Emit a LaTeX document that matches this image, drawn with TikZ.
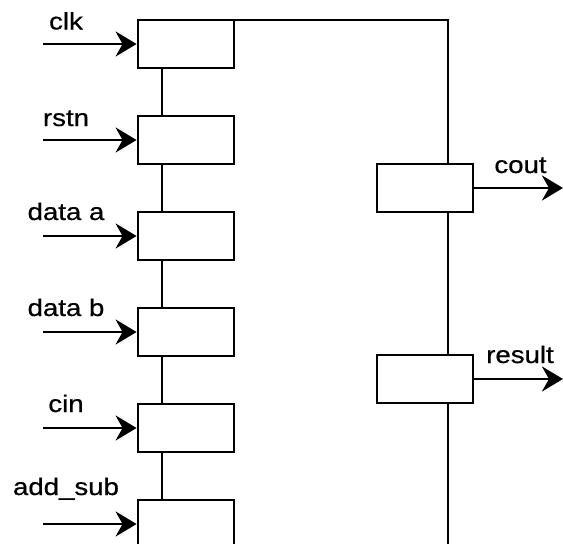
\documentclass[tikz,border=0pt]{standalone}
\usepackage{fontspec}
\setmainfont{Liberation Sans}
\newfontfamily\lblfont{Liberation Sans}[FakeBold=0.6,AutoFakeBold=0.6]
\usetikzlibrary{arrows.meta}
\tikzset{
  reg/.style={draw, line width=2.8pt, fill=white, rectangle, minimum width=96pt, minimum height=48pt, inner sep=0pt, outer sep=0pt},
  wire/.style={line width=2.8pt},
  sig/.style={line width=2.8pt, -{Stealth[length=21pt, width=25pt, inset=7pt]}},
  lbl/.style={anchor=base, inner sep=0pt, font=\lblfont\bfseries\fontsize{24}{28}\selectfont},
}
\newcommand{\wide}[1]{\scalebox{1.15}[1]{#1}}
\begin{document}
\begin{tikzpicture}[x=1pt, y=-1pt]
  \useasboundingbox (0,0) rectangle (563,544);
  \clip (0,0) rectangle (563,544);

  % bus positions
  \coordinate (lbus) at (162,0);
  \coordinate (rbus) at (448,0);
  \coordinate (floor) at (448,544);

  % input registers
  \node[reg] (b1) at (186,44) {};
  \node[reg] (b2) at (186,140) {};
  \node[reg] (b3) at (186,236) {};
  \node[reg] (b4) at (186,332) {};
  \node[reg] (b5) at (186,428) {};
  \node[reg] (b6) at (186,524) {};

  % output registers
  \node[reg] (r1) at (425,188) {};
  \node[reg] (r2) at (425,379) {};

  % left chain
  \draw[wire] (b1.south -| lbus) -- (b2.north -| lbus);
  \draw[wire] (b2.south -| lbus) -- (b3.north -| lbus);
  \draw[wire] (b3.south -| lbus) -- (b4.north -| lbus);
  \draw[wire] (b4.south -| lbus) -- (b5.north -| lbus);
  \draw[wire] (b5.south -| lbus) -- (b6.north -| lbus);

  % top wire and right chain
  \draw[wire] (b1.north east) -| (r1.north -| rbus);
  \draw[wire] (r1.south -| rbus) -- (r2.north -| rbus);
  \draw[wire] (r2.south -| rbus) -- (floor);

  % inputs
  \foreach \n in {b1,b2,b3,b4,b5,b6}{
    \coordinate (\n in) at ([xshift=-95pt]\n.west);
    \draw[sig] (\n in) -- ([xshift=-1.4pt]\n.west);
  }

  % outputs
  \coordinate (o1) at (563,188);
  \coordinate (o2) at (563,379);
  \draw[sig] (r1.east) -- (o1);
  \draw[sig] (r2.east) -- (o2);

  % labels
  \node[lbl] (l1) at (66,29.5) {\wide{clk}};
  \node[lbl] (l2) at (66,126) {\wide{rstn}};
  \node[lbl] (l3) at (66,220) {\wide{data a}};
  \node[lbl] (l4) at (66,316) {\wide{data b}};
  \node[lbl] (l5) at (66,412) {\wide{cin}};
  \node[lbl] (l6) at (66,495) {\wide{add\_sub}};
  \node[lbl] (l7) at (520.5,173) {\wide{cout}};
  \node[lbl] (l8) at (520,363) {\wide{result}};
\end{tikzpicture}
\end{document}
